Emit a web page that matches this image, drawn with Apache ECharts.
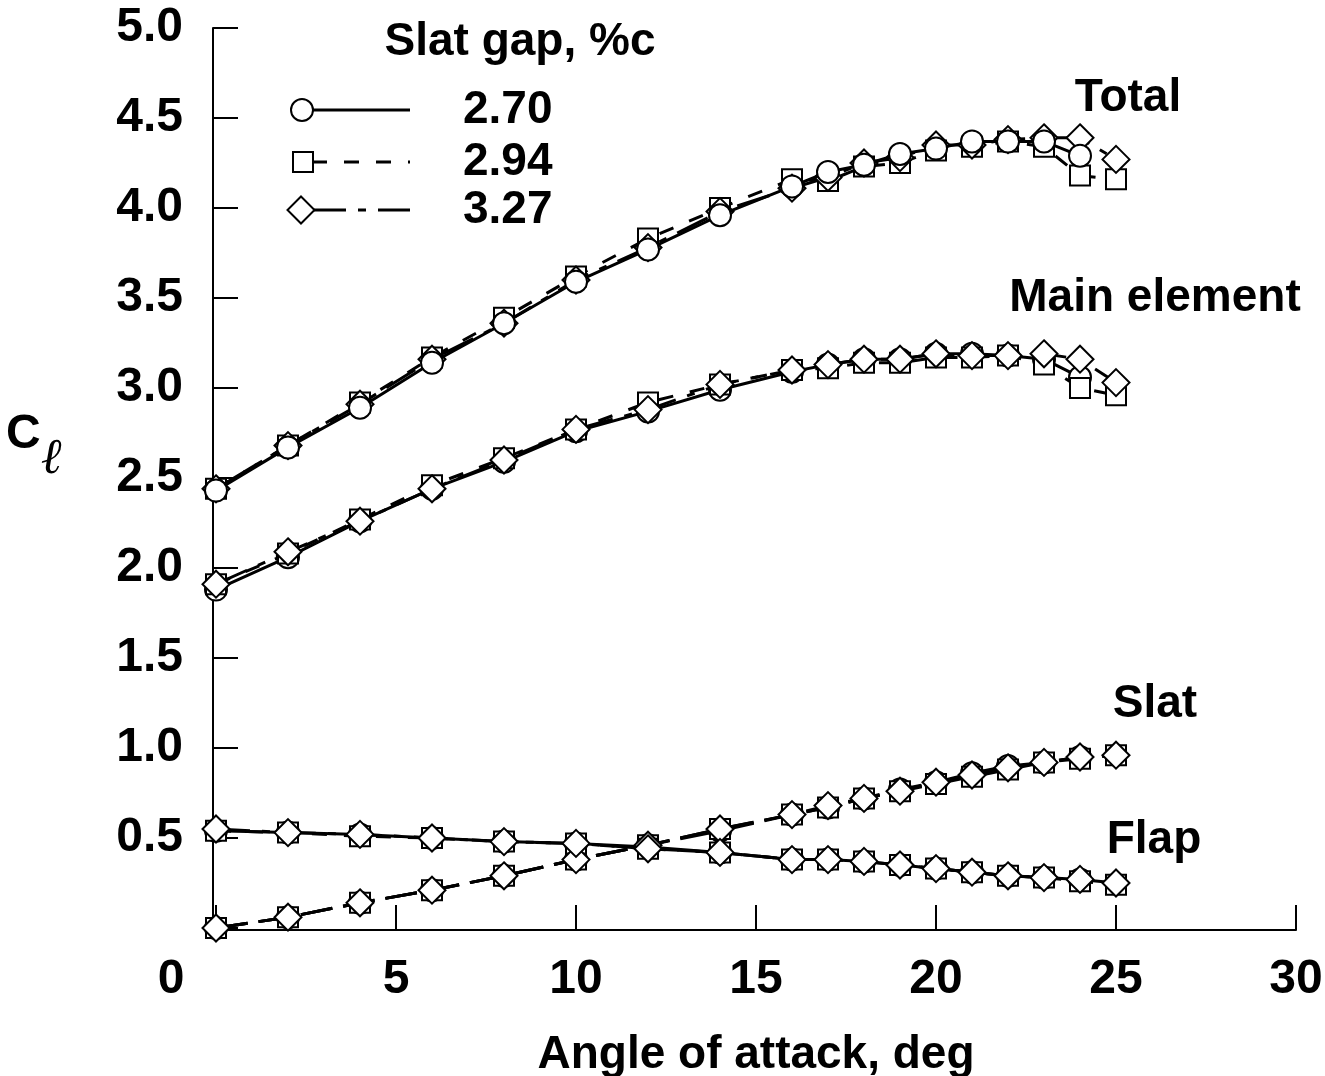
<!DOCTYPE html>
<html>
<head>
<meta charset="utf-8">
<script src="https://cdn.jsdelivr.net/npm/echarts@6/dist/echarts.min.js"></script>
<style>
  html, body { margin: 0; padding: 0; background: #fff; }
  #chart { width: 1325px; height: 1076px; }
</style>
</head>
<body>
<div id="chart"></div>
<script>
// Angle of attack (deg) at which lift was measured
const aoa = [0, 2, 4, 6, 8, 10, 12, 14, 16, 17, 18, 19, 20, 21, 22, 23, 24, 25];

// Slat gap settings, %c
const gaps = ['2.70', '2.94', '3.27'];

// Total lift coefficient
const totalGap270 = [2.43, 2.67, 2.89, 3.14, 3.36, 3.59, 3.77, 3.96, 4.12, 4.20, 4.24, 4.30, 4.33, 4.37, 4.37, 4.37, 4.29];
const totalGap294 = [2.44, 2.68, 2.92, 3.17, 3.39, 3.62, 3.83, 4.00, 4.16, 4.15, 4.23, 4.25, 4.32, 4.34, 4.37, 4.34, 4.18, 4.16];
const totalGap327 = [2.44, 2.68, 2.91, 3.16, 3.36, 3.60, 3.78, 3.98, 4.11, 4.17, 4.25, 4.28, 4.35, 4.35, 4.38, 4.39, 4.39, 4.27];

// Main element lift coefficient
const mainGap270 = [1.88, 2.06, 2.26, 2.44, 2.59, 2.76, 2.87, 2.99, 3.09, 3.13, 3.16, 3.16, 3.19, 3.19, 3.18, 3.16, 3.06];
const mainGap294 = [1.91, 2.08, 2.27, 2.46, 2.61, 2.77, 2.92, 3.02, 3.10, 3.11, 3.14, 3.14, 3.17, 3.17, 3.18, 3.13, 3.00, 2.96];
const mainGap327 = [1.91, 2.09, 2.26, 2.44, 2.60, 2.77, 2.88, 3.02, 3.10, 3.13, 3.16, 3.16, 3.19, 3.18, 3.18, 3.19, 3.16, 3.03];

// Slat lift coefficient
const slatGap270 = [0.00, 0.06, 0.14, 0.21, 0.29, 0.38, 0.46, 0.54, 0.63, 0.67, 0.72, 0.77, 0.81, 0.86, 0.90, 0.92, 0.95];
const slatGap294 = [0.00, 0.06, 0.14, 0.21, 0.29, 0.38, 0.46, 0.55, 0.63, 0.67, 0.72, 0.76, 0.80, 0.84, 0.88, 0.92, 0.94, 0.96];
const slatGap327 = [0.00, 0.06, 0.14, 0.21, 0.29, 0.38, 0.46, 0.55, 0.63, 0.68, 0.72, 0.76, 0.81, 0.85, 0.89, 0.92, 0.95, 0.96];

// Flap lift coefficient
const flapGap270 = [0.54, 0.53, 0.52, 0.50, 0.48, 0.47, 0.45, 0.42, 0.38, 0.38, 0.37, 0.35, 0.33, 0.31, 0.29, 0.28, 0.27];
const flapGap294 = [0.54, 0.53, 0.51, 0.50, 0.48, 0.47, 0.44, 0.42, 0.38, 0.38, 0.37, 0.35, 0.33, 0.31, 0.29, 0.28, 0.26, 0.24];
const flapGap327 = [0.55, 0.53, 0.52, 0.50, 0.48, 0.47, 0.44, 0.42, 0.38, 0.38, 0.37, 0.35, 0.33, 0.31, 0.29, 0.28, 0.27, 0.25];

// Curve names written beside each family of curves
const curveNames = ['Total', 'Main element', 'Slat', 'Flap'];

// Axis tick labels
const xTicks = [0, 5, 10, 15, 20, 25, 30];
const yTicks = [0.5, 1.0, 1.5, 2.0, 2.5, 3.0, 3.5, 4.0, 4.5, 5.0];

const FONT = '"Liberation Sans", Arial, Helvetica, sans-serif';
const INK = '#000';

// One marker and line style per slat gap
const styles = {
  '2.70': { symbol: 'circle',  size: 22, dash: 'solid' },
  '2.94': { symbol: 'rect',    size: 20, dash: [15, 17] },
  '3.27': { symbol: 'diamond', size: 27, dash: [34, 12, 8, 12] }
};
// The slat curves share one long-dash stroke
const SLAT_DASH = [32, 11];

function pairs(values) {
  return values.map((v, i) => [aoa[i], v]);
}

function curve(gap, values, z, dashOverride) {
  const s = styles[gap];
  return {
    type: 'line',
    name: gap,
    data: pairs(values),
    symbol: s.symbol,
    symbolSize: s.size,
    showAllSymbol: true,
    z: z,
    lineStyle: { color: INK, width: 3, type: dashOverride || s.dash },
    itemStyle: { color: '#fff', borderColor: INK, borderWidth: 2 },
    emphasis: { disabled: true },
    animation: false
  };
}

const series = [
  // Total: circles drawn last
  curve('2.94', totalGap294, 2), curve('3.27', totalGap327, 3), curve('2.70', totalGap270, 4),
  // Main element: diamonds drawn last
  curve('2.70', mainGap270, 2), curve('2.94', mainGap294, 3), curve('3.27', mainGap327, 4),
  // Slat
  curve('2.70', slatGap270, 2, SLAT_DASH), curve('2.94', slatGap294, 3, SLAT_DASH), curve('3.27', slatGap327, 4, SLAT_DASH),
  // Flap
  curve('2.70', flapGap270, 2), curve('2.94', flapGap294, 3), curve('3.27', flapGap327, 4)
];

const bold = { fontFamily: FONT, fontWeight: 'bold', fontSize: 46, fill: INK };

// Legend key: marker, line sample and gap value for each row
const legendRows = [
  { gap: gaps[0], y: 110 },
  { gap: gaps[1], y: 162 },
  { gap: gaps[2], y: 210 }
];
const legendGraphics = [];
legendRows.forEach(r => {
  const s = styles[r.gap];
  legendGraphics.push({
    type: 'line', silent: true, z: 10,
    shape: { x1: 312, y1: r.y, x2: 410, y2: r.y },
    style: { stroke: INK, lineWidth: 3, lineDash: s.dash === 'solid' ? null : s.dash }
  });
  let marker;
  if (s.symbol === 'circle') {
    marker = { type: 'circle', shape: { cx: 302, cy: r.y, r: 11 } };
  } else if (s.symbol === 'rect') {
    marker = { type: 'rect', shape: { x: 293, y: r.y - 10, width: 20, height: 20 } };
  } else {
    marker = { type: 'polygon', shape: { points: [[301, r.y - 13.5], [314.5, r.y], [301, r.y + 13.5], [287.5, r.y]] } };
  }
  marker.silent = true;
  marker.z = 11;
  marker.style = { fill: '#fff', stroke: INK, lineWidth: 2 };
  legendGraphics.push(marker);
  legendGraphics.push({
    type: 'text', silent: true, z: 10, x: 463, y: r.y,
    style: Object.assign({ text: r.gap, verticalAlign: 'middle' }, bold)
  });
});

const labelGraphics = [
  { type: 'text', x: 520, y: 42, style: Object.assign({ text: 'Slat gap, %c', align: 'center', verticalAlign: 'middle' }, bold) },
  { type: 'text', x: 1128, y: 98, style: Object.assign({ text: curveNames[0], align: 'center', verticalAlign: 'middle' }, bold) },
  { type: 'text', x: 1155, y: 298, style: Object.assign({ text: curveNames[1], align: 'center', verticalAlign: 'middle' }, bold) },
  { type: 'text', x: 1155, y: 704, style: Object.assign({ text: curveNames[2], align: 'center', verticalAlign: 'middle' }, bold) },
  { type: 'text', x: 1154, y: 840, style: Object.assign({ text: curveNames[3], align: 'center', verticalAlign: 'middle' }, bold) },
  // Lift coefficient symbol C with script-l subscript
  {
    type: 'text', x: 6, y: 446,
    style: {
      text: '{c|C}{l|ℓ}',
      verticalAlign: 'middle',
      rich: {
        c: { fontFamily: FONT, fontWeight: 'bold', fontSize: 48, fill: INK, padding: [0, 0, 22, 0] },
        l: { fontFamily: '"DejaVu Serif", serif', fontStyle: 'italic', fontSize: 50, fill: INK, padding: [28, 0, 0, 0] }
      }
    }
  }
].map(g => Object.assign({ silent: true, z: 10 }, g));

const tickFont = { fontFamily: FONT, fontWeight: 'bold', fontSize: 48, color: INK };

const chart = echarts.init(document.getElementById('chart'), null, { renderer: 'canvas' });
chart.setOption({
  backgroundColor: '#fff',
  animation: false,
  grid: { left: 216, right: 29, top: 28, bottom: 148, containLabel: false, outerBoundsMode: 'none' },
  xAxis: {
    type: 'value',
    min: xTicks[0],
    max: xTicks[xTicks.length - 1],
    interval: 5,
    offset: 2,
    name: 'Angle of attack, deg',
    nameLocation: 'middle',
    nameGap: 102,
    nameTextStyle: { fontFamily: FONT, fontWeight: 'bold', fontSize: 46, color: INK },
    axisLine: { show: true, onZero: false, lineStyle: { color: INK, width: 2 } },
    axisTick: { show: true, inside: true, length: 25, lineStyle: { color: INK, width: 2 } },
    splitLine: { show: false },
    axisLabel: Object.assign({
      margin: 26,
      formatter: v => (v === 0 ? '{o|0}' : String(v)),
      rich: { o: Object.assign({ padding: [0, 90, 0, 0] }, tickFont) }
    }, tickFont)
  },
  yAxis: {
    type: 'value',
    min: 0,
    max: yTicks[yTicks.length - 1],
    interval: 0.5,
    offset: 3,
    axisLine: { show: true, onZero: false, lineStyle: { color: INK, width: 2 } },
    axisTick: { show: true, inside: true, length: 25, lineStyle: { color: INK, width: 2 } },
    splitLine: { show: false },
    axisLabel: Object.assign({
      margin: 30,
      formatter: v => (yTicks.some(t => Math.abs(t - v) < 1e-9) ? v.toFixed(1) : '')
    }, tickFont)
  },
  series: series,
  graphic: legendGraphics.concat(labelGraphics)
});
</script>
</body>
</html>
